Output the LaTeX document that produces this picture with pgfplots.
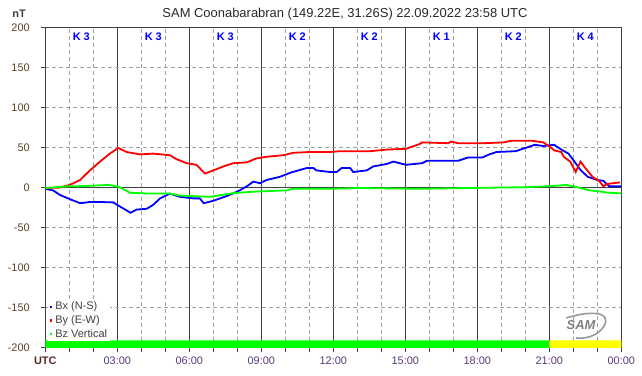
\documentclass[border=0pt]{standalone}
\usepackage{pgfplots}
\pgfplotsset{compat=1.18}
\usepackage{fontspec}
\setmainfont{Liberation Sans}
\definecolor{frame}{HTML}{404040}
\definecolor{gridg}{HTML}{A0A0A0}
\definecolor{xlab}{HTML}{5A3A7A}
\definecolor{ylab}{HTML}{5C4525}
\definecolor{utc}{HTML}{5A2A2A}
\definecolor{titlec}{HTML}{282828}
\definecolor{bxc}{HTML}{0000FF}
\definecolor{byc}{HTML}{FF0000}
\definecolor{bzc}{HTML}{00FF00}
\definecolor{bandg}{HTML}{00FF00}
\definecolor{bandy}{HTML}{FFFF00}
\begin{document}
\begin{tikzpicture}
\useasboundingbox (0,0) rectangle (642bp,376bp);
\begin{axis}[
  at={(45.3bp,28bp)}, anchor=south west, scale only axis,
  width=576bp, height=320bp,
  xmin=0, xmax=24, ymin=-200, ymax=200,
  axis line style={frame, line width=1bp},
  xtick={0,3,...,24},
  xticklabels={\textbf{\color{utc}UTC},03:00,06:00,09:00,12:00,15:00,18:00,21:00,00:00},
  minor xtick={1,2,4,5,7,8,10,11,13,14,16,17,19,20,22,23},
  ytick={-200,-150,...,200},
  xmajorgrids, xminorgrids, ymajorgrids,
  major x grid style={frame, line width=1bp},
  minor x grid style={gridg, dash pattern=on 4bp off 3bp, line width=1bp},
  major y grid style={gridg, dash pattern=on 4bp off 3bp, line width=1bp},
  tick style={frame, line width=1bp},
  major tick length=4bp, minor tick length=4bp, tick align=outside,
  xtick pos=bottom, ytick pos=left,
  ticklabel style={font=\fontsize{11}{13}\selectfont},
  xticklabel style={text=xlab, yshift=-1bp},
  yticklabel style={text=ylab, xshift=-8bp},
  /pgf/number format/assume math mode=true,
  legend style={at={(0.004,0.152)}, anchor=north west, draw=none, fill=white,
    font=\fontsize{11}{12}\selectfont, text=frame, inner sep=0.5bp, row sep=0.3bp,
    cells={anchor=west}},
  legend image code/.code={\draw[line width=2.5bp] (0bp,0bp) -- (2.5bp,0bp);},
]
\addplot[draw=none, fill=bandg, forget plot] coordinates {(0,-200) (21,-200) (21,-190.5) (0,-190.5) (0,-200)};
\addplot[draw=none, fill=bandy, forget plot] coordinates {(21,-200) (24,-200) (24,-190.5) (21,-190.5) (21,-200)};
\draw[frame, line width=1bp] (axis cs:0,0) -- (axis cs:24,0);

\addplot[bxc, line width=1.8bp] coordinates {
(0,-1)(0.33,-3)(0.61,-8.7)(1.03,-14)(1.45,-19)(1.86,-17.5)(2.28,-17.5)(2.83,-18)(3.1,-23)(3.39,-28)(3.55,-31)(3.8,-27)(4.22,-26)(4.5,-21)(4.78,-13)(5.19,-7)(5.6,-11)(6.17,-13)(6.44,-13)(6.6,-19)(7.0,-16)(7.56,-10)(8.0,-4.6)(8.39,2)(8.67,8)(8.94,6)(9.22,10)(9.78,14)(10.2,19)(10.6,22.5)(10.9,25)(11.17,25)(11.3,22)(11.86,20)(12.14,20)(12.35,25)(12.7,25)(12.83,20)(13.39,22)(13.67,27)(14.22,30)(14.5,33)(15.03,29)(15.7,31)(15.9,34)(17.2,34)(17.6,38)(18.2,38)(18.5,42)(18.8,45)(19.6,46)(20.0,50)(20.4,54)(20.75,52.5)(21.2,54)(21.5,48)(21.8,43)(22.0,35)(22.3,22.5)(22.6,14)(23.0,10)(23.25,9)(23.5,2)(24,2)};
\addlegendentry{Bx (N-S)}
\addplot[byc, line width=1.8bp] coordinates {
(0,0)(0.6,0.5)(1.03,4)(1.45,10)(1.86,22)(2.28,33)(2.69,43)(3.04,50)(3.39,45)(3.94,42)(4.5,43)(5.19,41)(5.47,36)(5.89,31)(6.3,29)(6.65,18)(7.0,22)(7.42,27)(7.83,31)(8.39,32)(8.8,37)(9.22,39)(9.92,41)(10.33,44)(11.03,45)(11.86,45)(12.28,46)(13.53,46)(14.22,48)(15.03,49)(15.6,55)(15.7,57)(16.8,56)(16.9,58)(17.2,56)(18.3,56)(19.1,57)(19.4,59)(20.3,59)(20.75,57)(21.0,52)(21.2,47)(21.5,45)(21.6,39)(21.87,33)(22.1,20)(22.3,33)(22.5,25)(22.8,14)(23.1,8)(23.25,2)(23.4,5)(23.95,7)};
\addlegendentry{By (E-W)}
\addplot[bzc, line width=1.8bp] coordinates {
(0,0)(0.9,2)(1.7,2.5)(2.4,3.5)(2.6,4)(2.9,2.5)(3.1,1)(3.53,-6)(4.36,-7)(5.19,-7)(5.6,-9.5)(6.86,-11)(7.28,-9)(7.83,-6.5)(8.67,-4.6)(10.05,-3)(10.33,-1)(11.86,-1)(13.1,0)(15.6,-1)(17.6,0)(20.0,1)(21.2,2.5)(21.7,4)(22.3,0)(22.6,-2.5)(23.0,-4)(23.5,-6)(24,-6.7)};
\addlegendentry{Bz Vertical}

\begin{scope}[every node/.style={font=\bfseries\fontsize{11}{12}\selectfont, text=blue}]
\node at (axis cs:1.5,189) {K 3};
\node at (axis cs:4.5,189) {K 3};
\node at (axis cs:7.5,189) {K 3};
\node at (axis cs:10.5,189) {K 2};
\node at (axis cs:13.5,189) {K 2};
\node at (axis cs:16.5,189) {K 1};
\node at (axis cs:19.5,189) {K 2};
\node at (axis cs:22.5,189) {K 4};
\end{scope}
\end{axis}
\node[font=\fontsize{13}{15}\selectfont, text=titlec] at (345bp,362bp) {SAM Coonabarabran (149.22E, 31.26S) 22.09.2022 23:58 UTC};
\node[font=\bfseries\fontsize{11}{13}\selectfont, text=frame] at (19bp,362bp) {nT};
\draw[gray!80, line width=1.6bp] (566bp,58bp) .. controls (592bp,66bp) and (612bp,64bp) .. (604bp,50bp) .. controls (598bp,40bp) and (586bp,37bp) .. (576bp,38bp);
\node[font=\bfseries\itshape\fontsize{13}{13}\selectfont, text=gray] at (581bp,51bp) {SAM};
\end{tikzpicture}
\end{document}
